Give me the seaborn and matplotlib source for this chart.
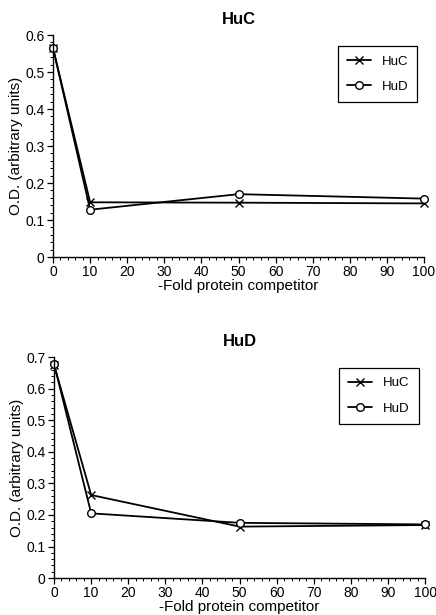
import matplotlib
matplotlib.use("Agg")
import matplotlib.pyplot as plt
import seaborn as sns
import pandas as pd
from matplotlib.ticker import MultipleLocator

sns.set_style("ticks")
plt.rcParams['font.family'] = ['Liberation Sans', 'DejaVu Sans']
plt.rcParams['font.size'] = 10
plt.rcParams['text.color'] = 'black'
plt.rcParams['axes.labelcolor'] = 'black'
plt.rcParams['xtick.color'] = 'black'
plt.rcParams['ytick.color'] = 'black'

# data
fold = [0, 10, 50, 100]
hucpanel_huc = [0.565, 0.148, 0.147, 0.145]
hucpanel_hud = [0.565, 0.128, 0.170, 0.158]
hudpanel_huc = [0.675, 0.263, 0.163, 0.168]
hudpanel_hud = [0.678, 0.205, 0.175, 0.170]

panels = [
    ('HuC', hucpanel_huc, hucpanel_hud, 0.6, [0.1216, 0.582, 0.851, 0.361]),
    ('HuD', hudpanel_huc, hudpanel_hud, 0.7, [0.124, 0.060, 0.851, 0.3595]),
]

fig = plt.figure(figsize=(4.36, 6.15), dpi=100)

for title, huc, hud, ymax, pos in panels:
    ax = fig.add_axes(pos)
    df = pd.DataFrame({'fold': fold * 2,
                       'od': huc + hud,
                       'series': ['HuC'] * 4 + ['HuD'] * 4})
    sns.lineplot(data=df[df.series == 'HuC'], x='fold', y='od', ax=ax,
                 color='black', marker='x', markersize=6, mec='black',
                 mew=1.0, linewidth=1.3, label='HuC', clip_on=False)
    sns.lineplot(data=df[df.series == 'HuD'], x='fold', y='od', ax=ax,
                 color='black', marker='o', markersize=5.5, mfc='white',
                 mec='black', mew=1.0, linewidth=1.3, label='HuD',
                 clip_on=False)
    ax.set_xlim(0, 100)
    ax.set_ylim(0, ymax)
    ax.xaxis.set_major_locator(MultipleLocator(10))
    ax.xaxis.set_minor_locator(MultipleLocator(2))
    ax.yaxis.set_major_locator(MultipleLocator(0.1))
    ax.yaxis.set_minor_locator(MultipleLocator(0.02))
    ax.yaxis.set_major_formatter(matplotlib.ticker.FuncFormatter(
        lambda v, p: '0' if abs(v) < 1e-9 else f'{v:.1f}'))
    ax.tick_params(which='major', direction='out', length=4, width=0.9,
                   labelsize=10, pad=2)
    ax.tick_params(which='minor', direction='out', length=2, width=0.7)
    for s in ['left', 'bottom']:
        ax.spines[s].set_linewidth(1.0)
        ax.spines[s].set_color('black')
    sns.despine(ax=ax)
    ax.set_xlabel('-Fold protein competitor', fontsize=11, labelpad=0)
    ax.set_ylabel('O.D. (arbitrary units)', fontsize=11, labelpad=2)
    ax.set_title(title, fontsize=12, fontweight='bold', pad=8)
    leg = ax.legend(loc='upper right', bbox_to_anchor=(1.0, 0.98),
                    frameon=True, fancybox=False, edgecolor='black',
                    fontsize=9.5, handlelength=1.8, borderpad=0.7,
                    labelspacing=1.0)
    leg.get_frame().set_linewidth(0.9)
    leg.get_frame().set_alpha(1)

fig.savefig('out.png', dpi=100)
